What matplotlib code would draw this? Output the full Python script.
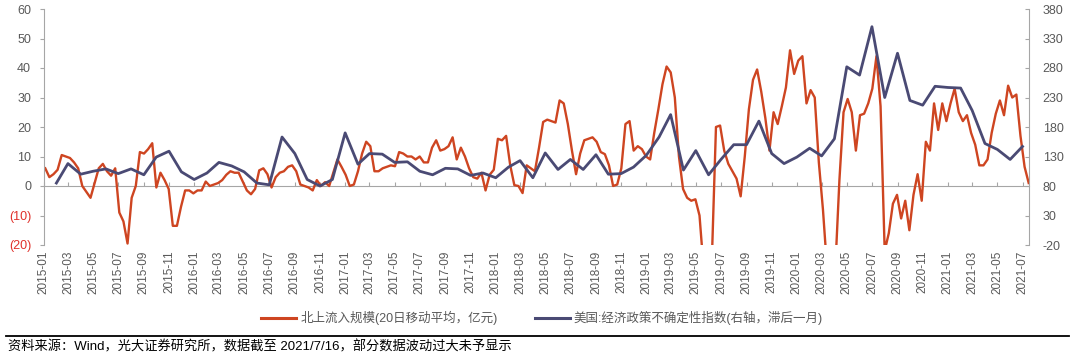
import numpy as np
import pandas as pd
import matplotlib
matplotlib.use('Agg')
import matplotlib.pyplot as plt
import matplotlib.dates as mdates
from matplotlib.lines import Line2D

plt.rcParams['font.family'] = ['Liberation Sans', 'Noto Sans CJK SC', 'DejaVu Sans']

# ---- data ----
flow_start = '2015-01-05'
flow_end = '2021-07-16'
flow_values = [
    6, 3, 4, 5.5, 10.5, 10, 9.5, 8, 6, 0,
    -2, -4, 1, 6, 7.5, 5, 3.5, 6, -9, -12,
    -19.5, -4, 0, 11.5, 11, 12.5, 14.5, -0.5, 4.5, 2,
    -1, -13.5, -13.5, -7, -1.5, -1.5, -2.5, -1.5, -1.5, 1.5,
    0, 0.5, 1, 2, 3.8, 5, 4.5, 4.5, 1.5, -1.5,
    -2.8, -1, 5.3, 6, 4, -0.5, 3, 4.5, 5, 6.5,
    7, 5, 0.5, 0, -0.5, -1.5, 2, 0, 1.3, 0,
    4.5, 9, 6.5, 3.8, 0, 0.5, 5, 11, 15, 13.5,
    5, 5, 6, 6.5, 7, 6.7, 11.5, 11, 10, 10,
    9, 10, 8, 8, 13, 15.5, 12, 12.5, 13.5, 16.5,
    9, 13, 10, 6, 3, 2.5, 4.5, -1.5, 3.8, 5.5,
    16, 15.5, 17, 7, 0.3, 0, -2.4, 7, 6, 5,
    13, 21.7, 22.5, 22, 21.5, 29, 28, 21, 12, 4,
    11, 15.5, 16, 16.5, 15, 11.5, 10.8, 7, 0, 0.5,
    6, 21, 22, 12, 13.5, 12.5, 10, 9, 18, 26,
    34.5, 40.5, 38.5, 30, 10, -1, -4, -5, -4.5, -10,
    -28, -28, -25, 20, 20.5, 12, 7.5, 5, 2.5, -3.5,
    10, 26, 36, 39.5, 32, 23, 12, 25, 21, 27,
    33.4, 46, 38, 42.5, 44, 28, 32.5, 30, 8, -8,
    -28, -30, -28, 2, 25, 29.5, 25, 12, 24, 24.5,
    28, 33, 44, 27, -22, -16, -6, -3, -11, -5,
    -15, -3, 4, -5, 15, 12, 28, 19, 28, 22,
    28, 33, 25, 22, 24, 18, 14, 7, 7, 9,
    18, 24.5, 29, 24, 34, 30, 31, 17, 6.5, 1,
]

epu_start = '2015-02-01'
epu_values = [
    85, 118, 100, 105, 109, 101, 109, 99, 129, 139, 104,
    91, 102, 120, 114, 104, 85, 82, 163, 135, 91, 80, 91,
    170, 117, 135, 134, 120, 121, 105, 99, 110, 109, 98, 102,
    94, 112, 123, 94, 136, 108, 125, 108, 133, 100, 101, 112,
    132, 163, 201, 107, 140, 99, 125, 150, 150, 190, 135, 118,
    129, 144, 131, 160, 282, 268, 350, 230, 305, 225, 217, 249,
    247, 246, 208, 152, 142, 125, 147,
]

left_ticks = [-20, -10, 0, 10, 20, 30, 40, 50, 60]
right_ticks = [-20, 30, 80, 130, 180, 230, 280, 330, 380]
xtick_dates = pd.date_range('2015-01-01', '2021-07-01', freq='2MS')

flow_label = '北上流入规模(20日移动平均，亿元)'
epu_label = '美国:经济政策不确定性指数(右轴，滞后一月)'
source_text = '资料来源：Wind，光大证券研究所，数据截至 2021/7/16，部分数据波动过大未予显示'

ORANGE = '#CE4521'
NAVY = '#4A4A74'
GRAY = '#A6A6A6'
TXT = '#595959'
RED = '#E0302A'

# ---- figure ----
fig = plt.figure(figsize=(10.8, 3.6), dpi=100)
ax = fig.add_axes([43.6 / 1080, 1 - 245 / 360, (1028.7 - 43.6) / 1080, (245 - 9) / 360])
ax2 = ax.twinx()

flow_dates = pd.date_range(flow_start, flow_end, periods=len(flow_values))
epu_dates = pd.date_range(epu_start, periods=len(epu_values), freq='MS')

ax.plot(flow_dates, flow_values, color=ORANGE, lw=1.7, solid_joinstyle='round')
ax2.plot(epu_dates, epu_values, color=NAVY, lw=2.0, solid_joinstyle='round')

ax.set_xlim(pd.Timestamp('2015-01-01'), pd.Timestamp('2021-07-16'))
ax.set_ylim(left_ticks[0], left_ticks[-1])
ax2.set_ylim(right_ticks[0], right_ticks[-1])

for s in ['top', 'bottom', 'right']:
    ax.spines[s].set_visible(False)
for s in ['top', 'bottom', 'left']:
    ax2.spines[s].set_visible(False)
ax.spines['left'].set_color(GRAY)
ax2.spines['right'].set_color(GRAY)

ax.set_yticks(left_ticks)
ax.set_yticklabels([f'({abs(v)})' if v < 0 else f'{v}' for v in left_ticks])
for lab, v in zip(ax.get_yticklabels(), left_ticks):
    lab.set_color(RED if v < 0 else TXT)
ax.tick_params(axis='y', direction='out', length=3, width=0.8, color=GRAY, pad=6, labelsize=9)

ax2.set_yticks(right_ticks)
ax2.set_yticklabels([str(v) for v in right_ticks])
ax2.tick_params(axis='y', direction='in', length=3, width=0.8, color=GRAY, pad=10,
                labelsize=9, labelcolor=TXT)

ax.set_xticks(xtick_dates)
ax.set_xticklabels([d.strftime('%Y-%m') for d in xtick_dates], rotation=90)
ax.tick_params(axis='x', length=0, pad=4, labelsize=8.5, labelcolor=TXT)

# zero line with inward tick marks
zero_frac = (0 - left_ticks[0]) / (left_ticks[-1] - left_ticks[0])
sec = ax.secondary_xaxis(zero_frac)
sec.set_xticks(mdates.date2num(xtick_dates))
sec.tick_params(direction='in', length=3, width=0.8, color=GRAY,
                labelbottom=False, labeltop=False)
sec.spines['bottom'].set_color(GRAY)
sec.spines['top'].set_visible(False)

handles = [Line2D([], [], color=ORANGE, lw=2.2), Line2D([], [], color=NAVY, lw=2.2)]
leg = fig.legend(handles, [flow_label, epu_label], loc='center',
                 bbox_to_anchor=(0.502, 1 - 318 / 360), ncol=2, frameon=False,
                 fontsize=9, handlelength=2.8, handletextpad=0.3, columnspacing=3.0)
for t in leg.get_texts():
    t.set_color(TXT)

fig.add_artist(Line2D([0.006, 0.99], [1 - 336 / 360] * 2, color='black', lw=1.3,
                      transform=fig.transFigure))
fig.text(0.007, 1 - 347 / 360, source_text, fontsize=9.5, va='center', ha='left', color='black')

fig.savefig('out.png', dpi=100)
